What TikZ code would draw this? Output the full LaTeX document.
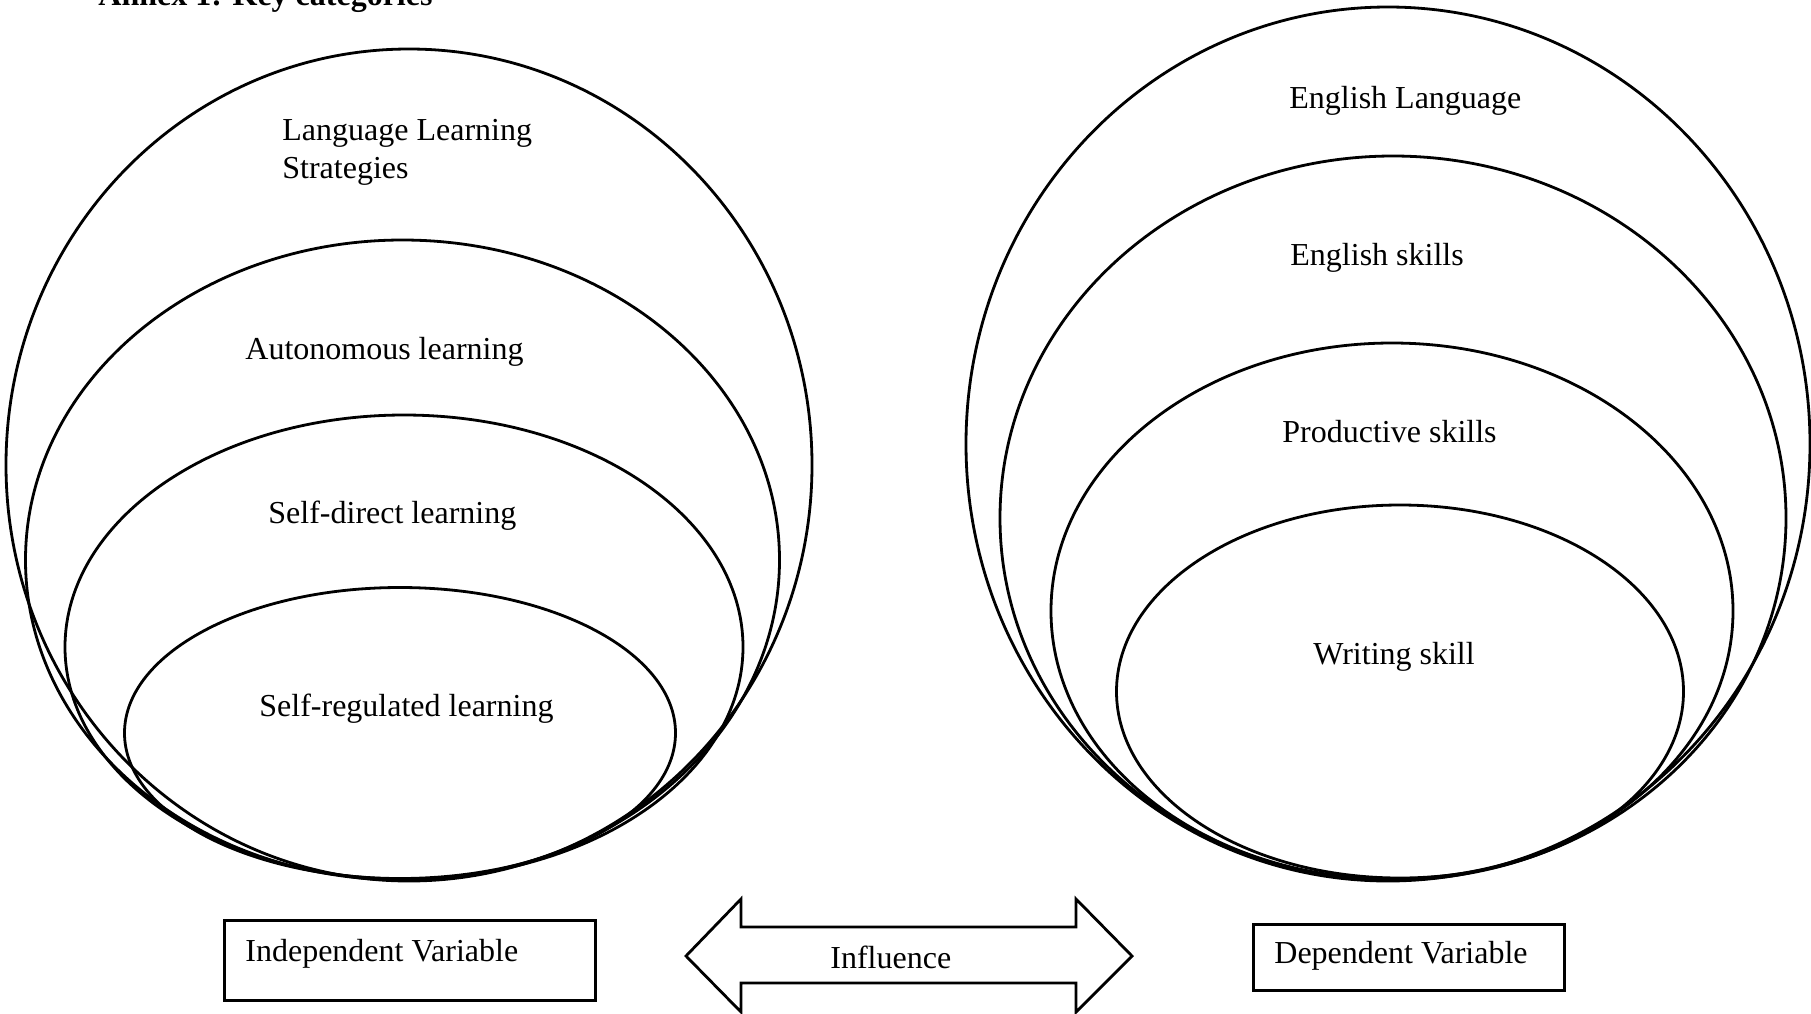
\documentclass[tikz,border=0pt]{standalone}
\usepackage{fontspec}
\setmainfont{Liberation Serif}
\begin{document}
\begin{tikzpicture}[x=0.5pt, y=-0.5pt,
  ring/.style={line width=1.4pt},
  lbl/.style={anchor=base west, inner sep=0pt, font=\fontsize{16pt}{19pt}\selectfont},
  varbox/.style={draw, line width=1.4pt, inner sep=0pt, anchor=north west},
  arrowline/.style={line width=1.4pt, line join=miter}]
\useasboundingbox (0,0) rectangle (1811,1013);

% heading (only its lower part falls inside the page)
\node[lbl, font=\fontsize{16pt}{19pt}\selectfont\bfseries] (title) at (98,5) {Annex 1: Key categories};

% independent-variable family of nested ovals
\draw[ring] (409,465) ellipse [x radius=403, y radius=416];
\draw[ring] (402.5,560) ellipse [x radius=377, y radius=320];
\draw[ring] (404,647) ellipse [x radius=339, y radius=232];
\draw[ring] (400,733) ellipse [x radius=275.5, y radius=145.5];

\node[lbl, align=left] (lls) at (282,178) {Language Learning\\Strategies};
\node[lbl] (auto) at (245,359) {Autonomous learning};
\node[lbl] (selfdir) at (268,523) {Self-direct learning};
\node[lbl] (selfreg) at (259,716) {Self-regulated learning};

% dependent-variable family of nested ovals
\draw[ring] (1388,444) ellipse [x radius=422, y radius=437];
\draw[ring] (1393,518) ellipse [x radius=393, y radius=362];
\draw[ring] (1392,611) ellipse [x radius=341, y radius=268];
\draw[ring] (1400,691.5) ellipse [x radius=283.5, y radius=186.5];

\node[lbl] (englang) at (1289,108) {English Language};
\node[lbl] (engskills) at (1290,265) {English skills};
\node[lbl] (prodskills) at (1282,442) {Productive skills};
\node[lbl] (writing) at (1313,664) {Writing skill};

% variable boxes
\node[varbox, minimum width=185.5pt, minimum height=40pt] (indepbox) at (223,919) {};
\node[lbl] (indeptext) at (245,961) {Independent Variable};
\node[varbox, minimum width=155.5pt, minimum height=33pt] (depbox) at (1252,923) {};
\node[lbl] (deptext) at (1274,963) {Dependent Variable};

% two-headed block arrow
\draw[arrowline] (686,956) -- (741,899) -- (741,927) -- (1076,927) -- (1076,899)
  -- (1132,956) -- (1076,1012) -- (1076,983) -- (741,983) -- (741,1012) -- cycle;
\node[lbl] (influence) at (830,968) {Influence};
\end{tikzpicture}
\end{document}
